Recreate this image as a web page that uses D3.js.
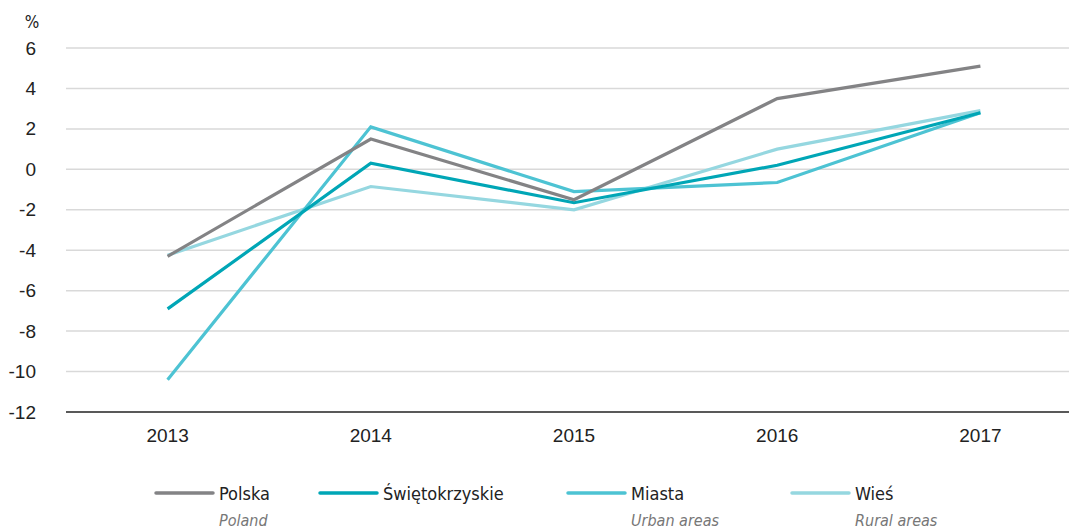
<!DOCTYPE html>
<html>
<head>
<meta charset="UTF-8">
<title>Chart</title>
<style>
  * { margin: 0; padding: 0; }
  body { background: #fff; }
  svg { display: block; font-family: "DejaVu Sans Condensed", "DejaVu Sans", sans-serif; font-stretch: condensed; }
</style>
</head>
<body>
<div id="chart"></div>
<script src="https://cdn.jsdelivr.net/npm/d3@7/dist/d3.min.js"></script>
<script>
var years = ["2013", "2014", "2015", "2016", "2017"];
var yTicks = [-12, -10, -8, -6, -4, -2, 0, 2, 4, 6];

var polska = [-4.3, 1.5, -1.5, 3.5, 5.1];
var swietokrzyskie = [-6.9, 0.3, -1.65, 0.2, 2.8];
var miasta = [-10.4, 2.1, -1.1, -0.65, 2.8];
var wies = [-4.25, -0.85, -2.0, 1.0, 2.9];

var seriesNames = ["Polska", "Świętokrzyskie", "Miasta", "Wieś"];
var seriesSub = ["Poland", "", "Urban areas", "Rural areas"];
var seriesColors = ["#838385", "#00a6b6", "#4dc3d3", "#95d7e0"];

var width = 1069, height = 529;
var marginLeft = 66, plotTop = 48, plotBottom = 412;

var svg = d3.select("#chart").append("svg")
    .attr("width", width)
    .attr("height", height);

var x = d3.scaleBand()
    .domain(years)
    .range([marginLeft, 1082]);

var y = d3.scaleLinear()
    .domain([-12, 6])
    .range([plotBottom, plotTop]);

// siatka
svg.append("g").selectAll("line")
    .data(yTicks.filter(function (d) { return d > -12; }))
    .enter().append("line")
    .attr("x1", marginLeft)
    .attr("x2", width)
    .attr("y1", function (d) { return y(d); })
    .attr("y2", function (d) { return y(d); })
    .attr("stroke", "#d9d9d9")
    .attr("stroke-width", 1.5);

// oś Y (zwykły dywiz jak w oryginale)
var yAxis = svg.append("g")
    .attr("transform", "translate(" + (marginLeft - 30) + ",0)")
    .call(d3.axisLeft(y).tickValues(yTicks).tickSize(0).tickPadding(0)
        .tickFormat(function (d) { return String(d); }));
yAxis.select(".domain").remove();
yAxis.selectAll("text")
    .attr("font-size", 19)
    .attr("fill", "#222")
    .attr("font-family", "inherit");

svg.append("text")
    .attr("x", 32)
    .attr("y", 28)
    .attr("text-anchor", "middle")
    .attr("font-size", 17)
    .attr("fill", "#222")
    .text("%");

// oś X
var xAxis = svg.append("g")
    .attr("transform", "translate(0," + plotBottom + ")")
    .call(d3.axisBottom(x).tickSize(0).tickPadding(17));
xAxis.select(".domain").remove();
xAxis.selectAll("text")
    .attr("font-size", 19)
    .attr("fill", "#222")
    .attr("font-family", "inherit");

svg.append("line")
    .attr("x1", marginLeft)
    .attr("x2", width)
    .attr("y1", plotBottom)
    .attr("y2", plotBottom)
    .attr("stroke", "#222")
    .attr("stroke-width", 1.5);

// linie
var allSeries = [polska, swietokrzyskie, miasta, wies];
var line = d3.line()
    .x(function (d, i) { return x(years[i]) + x.bandwidth() / 2; })
    .y(function (d) { return y(d); });

var drawOrder = [3, 2, 1, 0];
drawOrder.forEach(function (k) {
    svg.append("path")
        .datum(allSeries[k])
        .attr("d", line)
        .attr("fill", "none")
        .attr("stroke", seriesColors[k])
        .attr("stroke-width", 3.2)
        .attr("stroke-linejoin", "miter");
});

// legenda
var legendX = [156, 320, 568, 792];
var lg = svg.append("g").selectAll("g")
    .data(seriesNames)
    .enter().append("g")
    .attr("transform", function (d, i) { return "translate(" + legendX[i] + ",0)"; });

lg.append("line")
    .attr("x1", 0).attr("x2", 57)
    .attr("y1", 493).attr("y2", 493)
    .attr("stroke", function (d, i) { return seriesColors[i]; })
    .attr("stroke-width", 3.5)
    .attr("stroke-linecap", "round");

lg.append("text")
    .attr("x", 63)
    .attr("y", 500)
    .attr("font-size", 18)
    .attr("fill", "#222")
    .text(function (d) { return d; });

lg.append("text")
    .attr("x", 63)
    .attr("y", 526)
    .attr("font-size", 16)
    .attr("font-style", "italic")
    .attr("fill", "#777")
    .text(function (d, i) { return seriesSub[i]; });
</script>
</body>
</html>
